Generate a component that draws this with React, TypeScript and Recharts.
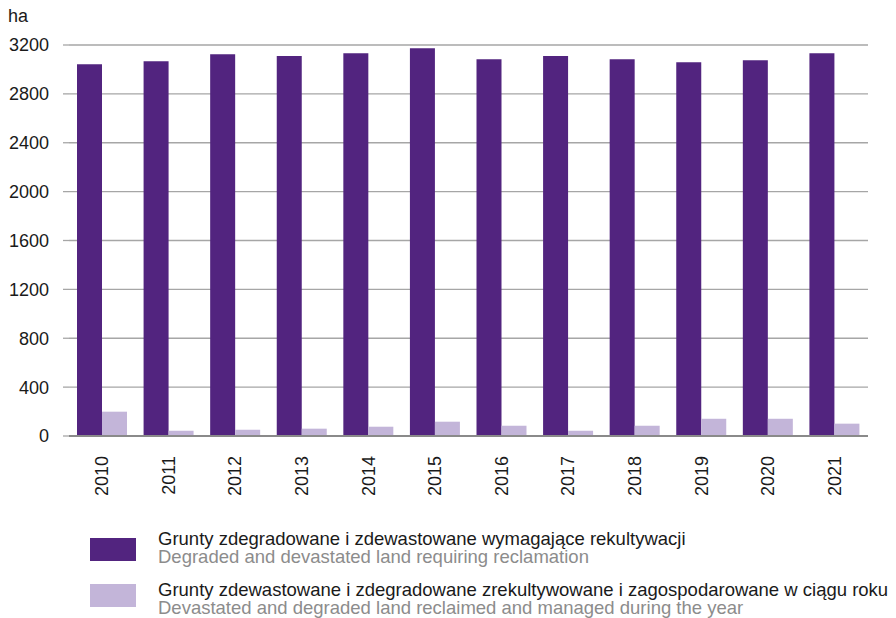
import React from "react";
import { Bar, BarChart, CartesianGrid, XAxis, YAxis } from "recharts";

const years = ["2010", "2011", "2012", "2013", "2014", "2015", "2016", "2017", "2018", "2019", "2020", "2021"];
const requiring = [3042, 3068, 3125, 3109, 3132, 3173, 3083, 3109, 3083, 3058, 3075, 3132];
const reclaimed = [199, 43, 51, 60, 76, 117, 84, 43, 84, 141, 141, 101];
const yTicks = [0, 400, 800, 1200, 1600, 2000, 2400, 2800, 3200];

const data = years.map((year, i) => ({
  year,
  requiring: requiring[i],
  reclaimed: reclaimed[i],
}));

const font = "'Liberation Sans', Arial, sans-serif";

const YearTick = (props: any) => {
  const { x, y, payload } = props;
  return (
    <text
      x={x + 6}
      y={y + 12}
      transform={`rotate(-90, ${x + 6}, ${y + 12})`}
      textAnchor="end"
      fontSize={18}
      fontFamily={font}
      fill="#1a1a1a"
    >
      {payload.value}
    </text>
  );
};

const legendItems = [
  {
    color: "#52247f",
    pl: "Grunty zdegradowane i zdewastowane wymagające rekultywacji",
    en: "Degraded and devastated land requiring reclamation",
    top: 538,
    textTop: 530,
  },
  {
    color: "#c3b5d9",
    pl: "Grunty zdewastowane i zdegradowane zrekultywowane i zagospodarowane w ciągu roku",
    en: "Devastated and degraded land reclaimed and managed during the year",
    top: 584,
    textTop: 581,
  },
];

export default function App() {
  return (
    <div style={{ position: "absolute", left: 0, top: 0, width: 896, height: 618, background: "#fff", fontFamily: font }}>
      <div style={{ position: "absolute", left: 8, top: 6, fontSize: 18, color: "#1a1a1a" }}>ha</div>
      <BarChart
        width={896}
        height={500}
        data={data}
        margin={{ top: 45, right: 28, bottom: 0, left: 0 }}
        barGap={0}
        barSize={25}
      >
        <CartesianGrid vertical={false} stroke="#a6a6a6" strokeWidth={1.3} />
        <XAxis
          dataKey="year"
          height={64}
          tickLine={false}
          axisLine={{ stroke: "#8a8a8a", strokeWidth: 2 }}
          tick={<YearTick />}
          interval={0}
        />
        <YAxis
          domain={[0, 3200]}
          ticks={yTicks}
          width={69}
          axisLine={false}
          tickSize={6}
          tickMargin={14}
          tickLine={{ stroke: "#a6a6a6", strokeWidth: 1.3 }}
          tick={{ fontSize: 18, fontFamily: font, fill: "#1a1a1a" }}
        />
        <Bar dataKey="requiring" fill="#52247f" isAnimationActive={false} />
        <Bar dataKey="reclaimed" fill="#c3b5d9" isAnimationActive={false} />
      </BarChart>
      {legendItems.map((item) => (
        <React.Fragment key={item.pl}>
          <div
            style={{
              position: "absolute",
              left: 90,
              top: item.top,
              width: 46,
              height: 23,
              background: item.color,
            }}
          />
          <div
            style={{
              position: "absolute",
              left: 158,
              top: item.textTop,
              fontSize: 18.5,
              lineHeight: "18px",
              whiteSpace: "nowrap",
            }}
          >
            <div style={{ color: "#1a1a1a" }}>{item.pl}</div>
            <div style={{ color: "#8c8c8c" }}>{item.en}</div>
          </div>
        </React.Fragment>
      ))}
    </div>
  );
}
